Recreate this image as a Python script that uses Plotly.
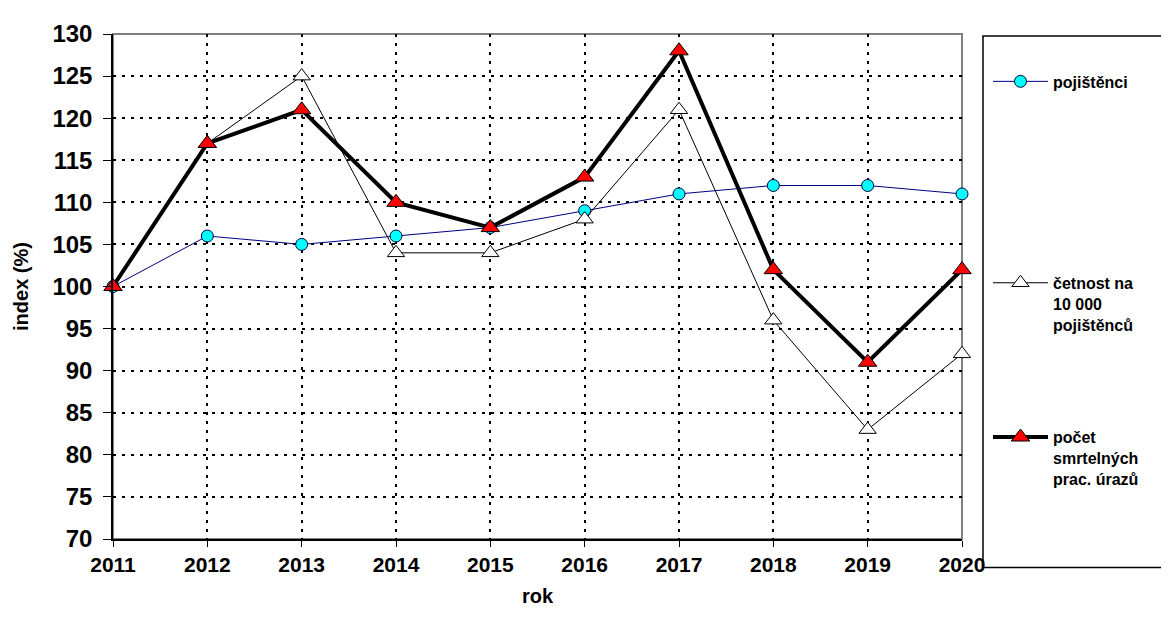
import plotly.graph_objects as go

years = [2011, 2012, 2013, 2014, 2015, 2016, 2017, 2018, 2019, 2020]
pojistenci = [100, 106, 105, 106, 107, 109, 111, 112, 112, 111]
cetnost = [100, 117, 125, 104, 104, 108, 121, 96, 83, 92]
pocet = [100, 117, 121, 110, 107, 113, 128, 102, 91, 102]

names = ["pojištěnci", "četnost na<br>10 000<br>pojištěnců", "počet<br>smrtelných<br>prac. úrazů"]

fig = go.Figure()
fig.add_trace(go.Scatter(
    x=years, y=pojistenci, name=names[0], mode="lines+markers", legend="legend",
    line=dict(color="#000080", width=1),
    marker=dict(symbol="circle", size=12, color="#00FFFF", line=dict(color="#000040", width=1)),
    cliponaxis=False))
fig.add_trace(go.Scatter(
    x=years, y=cetnost, name=names[1], mode="lines+markers", legend="legend2",
    line=dict(color="black", width=1),
    marker=dict(symbol="triangle-up", size=15, color="white", line=dict(color="black", width=1)),
    cliponaxis=False))
fig.add_trace(go.Scatter(
    x=years, y=pocet, name=names[2], mode="lines+markers", legend="legend3",
    line=dict(color="black", width=4),
    marker=dict(symbol="triangle-up", size=16, color="#FF0000", line=dict(color="black", width=1)),
    cliponaxis=False))

W, H = 1169, 622
OFF = 8  # page offset of the rendered figure
L, R, T, B = 113, 962, 25, 539

def px(x):
    return (x - L) / (R - L)

def py(y):
    return (B - y) / (B - T)

def leg(top):
    return dict(
        x=px(988), y=py(top), xanchor="left", yanchor="top",
        bgcolor="rgba(0,0,0,0)", borderwidth=0,
        font=dict(size=16, weight="bold"),
        valign="top", itemwidth=55,
    )

fig.update_layout(
    width=W, height=H,
    margin=dict(l=L - OFF, r=W - R + OFF, t=T - OFF, b=H - B + OFF, pad=0),
    paper_bgcolor="white", plot_bgcolor="white",
    font=dict(family="Liberation Sans, Arial, sans-serif", color="black", weight="bold"),
    xaxis=dict(
        range=[2011, 2020], tickmode="array", tickvals=years, ticktext=[str(y) for y in years],
        showgrid=True, gridcolor="black", griddash="3px,6px", gridwidth=1.5,
        showline=True, linecolor="black", linewidth=1.5,
        ticks="outside", ticklen=6, tickcolor="black",
        tickfont=dict(size=21, weight="bold"),
        title=dict(text="rok", font=dict(size=20, weight="bold"), standoff=14),
        zeroline=False,
    ),
    yaxis=dict(
        range=[70, 130], dtick=5, tick0=70,
        showgrid=True, gridcolor="black", griddash="3px,6px", gridwidth=1.5,
        showline=True, linecolor="black", linewidth=1.5,
        ticks="outside", ticklen=8, tickcolor="black",
        tickfont=dict(size=24, weight="bold"),
        ticklabelstandoff=6,
        title=dict(text="index (%)", font=dict(size=20, weight="bold"), standoff=18),
        zeroline=False,
    ),
    legend=leg(56),
    legend2=leg(261),
    legend3=leg(418),
    showlegend=True,
    shapes=[
        dict(type="rect", xref="paper", yref="paper", x0=0, x1=1, y0=0, y1=1,
             line=dict(color="#808080", width=2), fillcolor="rgba(0,0,0,0)", layer="below"),
        dict(type="rect", xref="paper", yref="paper", x0=px(983), x1=px(1185), y0=py(568), y1=py(27),
             line=dict(color="black", width=1.5), fillcolor="rgba(0,0,0,0)"),
    ],
)

fig.write_html("out.html")
